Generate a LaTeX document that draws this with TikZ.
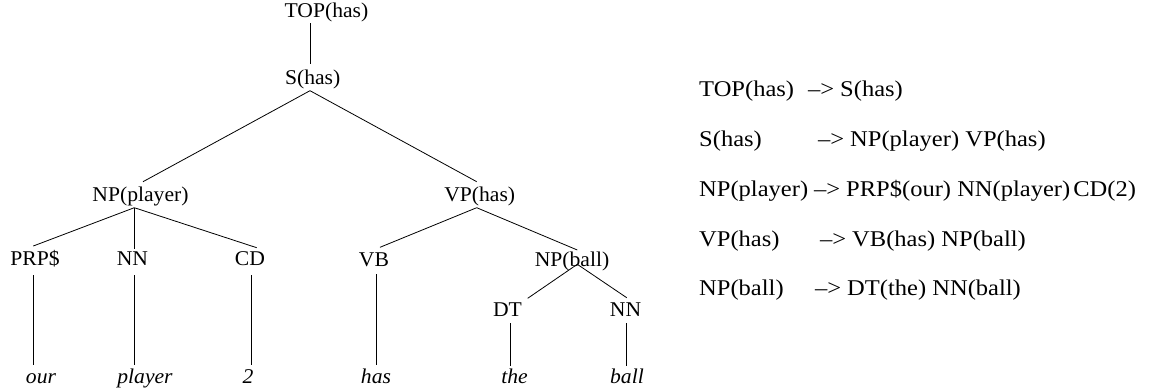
\documentclass[tikz,border=0pt]{standalone}
\usepackage{fontspec}
\setmainfont{Liberation Serif}
\newfontfamily\treefont{Liberation Serif}[FakeStretch=1.03]
\newfontfamily\rulefont{Liberation Serif}[FakeStretch=1.09]
\begin{document}
\begin{tikzpicture}[x=1pt,y=-1pt,
  lab/.style={inner sep=0pt, anchor=base, font=\treefont\fontsize{21}{25}\selectfont},
  word/.style={inner sep=0pt, anchor=base, font=\treefont\itshape\fontsize{21}{25}\selectfont},
  rulelab/.style={inner sep=0pt, anchor=base west, font=\rulefont\fontsize{22.5}{27}\selectfont},
  edge/.style={line width=0.8pt, black}]
\useasboundingbox (0,0) rectangle (1156,388);

% tree labels
\node[lab] (TOP) at (326.5,17) {TOP(has)};
\node[lab] (S) at (312.7,84) {S(has)};
\node[lab] (NPp) at (140.5,201) {NP(player)};
\node[lab] (VP) at (479.7,201) {VP(has)};
\node[lab] (PRP) at (35,265.5) {PRP\$};
\node[lab] (NNa) at (132.5,265.5) {NN};
\node[lab] (CD) at (250,265.5) {CD};
\node[lab] (VB) at (374,266) {VB};
\node[lab] (NPb) at (572,266) {NP(ball)};
\node[lab] (DT) at (507.5,316.7) {DT};
\node[lab] (NNb) at (625.5,316.7) {NN};

% words
\node[word] (our) at (41,383) {our};
\node[word] (player) at (145,383) {player};
\node[word] (two) at (248,383) {2};
\node[word] (has) at (376,383) {has};
\node[word] (the) at (514.5,383) {the};
\node[word] (ball) at (627,383) {ball};

% attachment points
\coordinate (TOPb) at (310,23);
\coordinate (St) at (310,64);
\coordinate (Sb) at (310,90.7);
\coordinate (NPpt) at (143,181.7);
\coordinate (VPt) at (476.7,181.7);
\coordinate (NPpb) at (134.3,207.7);
\coordinate (PRPt) at (33.3,246);
\coordinate (NNat) at (134.3,249);
\coordinate (CDt) at (256.7,247.7);
\coordinate (VPb) at (476.7,207.7);
\coordinate (VBt) at (380,247.3);
\coordinate (NPbt) at (577.3,250);
\coordinate (NPbb) at (577.3,264.3);
\coordinate (DTt) at (527.7,298.3);
\coordinate (NNbt) at (626.7,297.7);
\coordinate (PRPb) at (33.3,275);
\coordinate (ourt) at (33.3,365);
\coordinate (NNab) at (134.3,275);
\coordinate (playert) at (134.3,365);
\coordinate (CDb) at (251.7,275);
\coordinate (twot) at (251.7,365);
\coordinate (VBb) at (376.7,274);
\coordinate (hast) at (376.7,365);
\coordinate (DTb) at (510,323.3);
\coordinate (thet) at (510,366);
\coordinate (NNbb) at (626.7,323.3);
\coordinate (ballt) at (626.7,366);

% edges
\draw[edge] (TOPb) -- (St);
\draw[edge] (Sb) -- (NPpt);
\draw[edge] (Sb) -- (VPt);
\draw[edge] (NPpb) -- (PRPt);
\draw[edge] (NPpb) -- (NNat);
\draw[edge] (NPpb) -- (CDt);
\draw[edge] (VPb) -- (VBt);
\draw[edge] (VPb) -- (NPbt);
\draw[edge] (NPbb) -- (DTt);
\draw[edge] (NPbb) -- (NNbt);
\draw[edge] (PRPb) -- (ourt);
\draw[edge] (NNab) -- (playert);
\draw[edge] (CDb) -- (twot);
\draw[edge] (VBb) -- (hast);
\draw[edge] (DTb) -- (thet);
\draw[edge] (NNbb) -- (ballt);

% rules
\node[rulelab] (r1l) at (699,96) {TOP(has)};
\node[rulelab] (r1a) at (808,96) {–>};
\node[rulelab] (r1r) at (840,96) {S(has)};
\node[rulelab] (r2l) at (699,146.5) {S(has)};
\node[rulelab] (r2a) at (818,146.5) {–>};
\node[rulelab] (r2r) at (850,146.5) {NP(player) VP(has)};
\node[rulelab] (r3l) at (699,196.5) {NP(player)};
\node[rulelab] (r3a) at (814,196.5) {–>};
\node[rulelab] (r3r) at (846,196.5) {PRP\$(our) NN(player)\hspace{3pt}CD(2)};
\node[rulelab] (r4l) at (699,246) {VP(has)};
\node[rulelab] (r4a) at (820,246) {–>};
\node[rulelab] (r4r) at (852,246) {VB(has) NP(ball)};
\node[rulelab] (r5l) at (699,295.5) {NP(ball)};
\node[rulelab] (r5a) at (815,295.5) {–>};
\node[rulelab] (r5r) at (847,295.5) {DT(the) NN(ball)};
\end{tikzpicture}
\end{document}
